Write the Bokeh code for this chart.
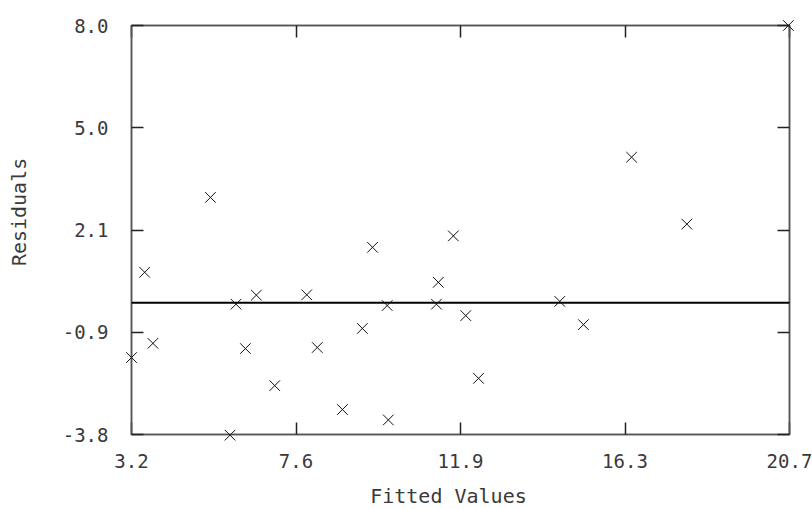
from bokeh.plotting import figure
from bokeh.models import Range1d, FixedTicker, LinearAxis, Span, CustomLabelingPolicy
from bokeh.embed import file_html
from bokeh.resources import INLINE

# ---- data ----
fitted = [3.20, 3.55, 3.77, 5.30, 5.82, 5.98, 6.23, 6.52, 7.01, 7.86,
          8.14, 8.81, 9.34, 9.61, 10.00, 10.03, 11.31, 11.36, 11.76, 12.09,
          12.43, 14.59, 15.22, 16.50, 17.97, 20.67]
residuals = [-1.58, 0.88, -1.17, 3.04, -3.82, -0.04, -1.32, 0.22, -2.39, 0.23,
             -1.29, -3.08, -0.74, 1.60, -0.08, -3.38, -0.04, 0.59, 1.93, -0.37,
             -2.18, 0.04, -0.63, 4.20, 2.27, 8.00]
x_ticks = [3.2, 7.575, 11.95, 16.325, 20.7]
x_tick_labels = ["3.2", "7.6", "11.9", "16.3", "20.7"]
y_ticks = [-3.8, -0.85, 2.1, 5.05, 8.0]
y_tick_labels = ["-3.8", "-0.9", "2.1", "5.0", "8.0"]
x_title = "Fitted Values"
y_title = "Residuals"

FONT = "DejaVu Sans Mono"
TXT = "#3a3a3a"
FRAME = "#555555"
PAD = "\u00a0"  # non-breaking space, used only to nudge the centred axis titles

W, H = 812, 509
left, top = 131, 25
fw, fh = 658, 409

p = figure(width=W, height=H, output_backend="svg", toolbar_location=None,
           x_range=Range1d(x_ticks[0], x_ticks[-1]),
           y_range=Range1d(y_ticks[0], y_ticks[-1]),
           x_axis_location=None, y_axis_location=None,
           min_border_left=left, min_border_top=top,
           min_border_right=W - left - fw, min_border_bottom=H - top - fh)
p.frame_width = fw
p.frame_height = fh
p.grid.visible = False
p.outline_line_color = FRAME
p.outline_line_width = 1.5
p.background_fill_color = "white"
p.border_fill_color = "white"

no_labels = CustomLabelingPolicy(code="for (const i of indices) indices.unset(i); return indices")


def style_axis(ax, show):
    ax.axis_line_color = FRAME
    ax.axis_line_width = 1.5
    ax.major_tick_in = 12
    ax.major_tick_out = 0
    ax.major_tick_line_color = "#222222"
    ax.major_tick_line_width = 1.5
    ax.minor_tick_line_color = None
    if show:
        ax.major_label_text_font = FONT
        ax.major_label_text_font_size = "19px"
        ax.major_label_text_color = TXT
        ax.axis_label_text_font = FONT
        ax.axis_label_text_font_size = "20px"
        ax.axis_label_text_color = TXT
        ax.axis_label_text_font_style = "normal"
    else:
        ax.major_label_policy = no_labels
        ax.major_label_standoff = 0


xb = LinearAxis(ticker=FixedTicker(ticks=x_ticks), axis_label=x_title + PAD * 2)
xb.major_label_overrides = {t: l for t, l in zip(x_ticks, x_tick_labels)}
style_axis(xb, True)
xb.major_label_standoff = 19
xb.axis_label_standoff = 13
p.add_layout(xb, "below")

xt = LinearAxis(ticker=FixedTicker(ticks=x_ticks))
style_axis(xt, False)
p.add_layout(xt, "above")

yl = LinearAxis(ticker=FixedTicker(ticks=y_ticks), axis_label=PAD * 3 + y_title)
yl.major_label_overrides = {t: l for t, l in zip(y_ticks, y_tick_labels)}
style_axis(yl, True)
yl.major_label_standoff = 23
yl.axis_label_standoff = 29
p.add_layout(yl, "left")

yr = LinearAxis(ticker=FixedTicker(ticks=y_ticks))
style_axis(yr, False)
p.add_layout(yr, "right")

p.add_layout(Span(location=0, dimension="width", line_color="black", line_width=2))

r = p.scatter(fitted, residuals, marker="x", size=15, line_color="#111111", line_width=1)
r.level = "overlay"

open("out.html", "w").write(file_html(p, INLINE))
